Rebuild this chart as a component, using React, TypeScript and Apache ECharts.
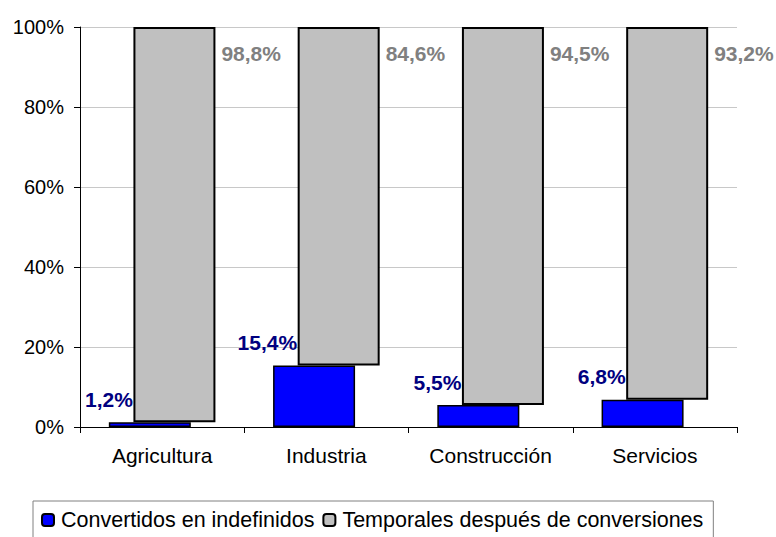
import React, { useEffect, useRef } from "react";
import * as echarts from "echarts";

const categories = ["Agricultura", "Industria", "Construcción", "Servicios"];
const convertidos = [1.2, 15.4, 5.5, 6.8];
const temporales = [98.8, 84.6, 94.5, 93.2];
const seriesNames = ["Convertidos en indefinidos", "Temporales después de conversiones"];

const fmt = (v: number) => v.toFixed(1).replace(".", ",") + "%";

export default function App() {
  const ref = useRef<HTMLDivElement>(null);
  useEffect(() => {
    document.body.style.margin = "0";
    const chart = echarts.init(ref.current!, null, { renderer: "svg" });
    const font = "Arial, 'Liberation Sans', sans-serif";
    chart.setOption({
      animation: false,
      backgroundColor: "#ffffff",
      textStyle: { fontFamily: font },
      grid: { left: 80, right: 39, top: 27, bottom: 110, containLabel: false },
      legend: {
        left: 33,
        top: 501,
        orient: "horizontal",
        data: seriesNames,
        itemWidth: 12,
        itemHeight: 12,
        itemGap: 8,
        borderColor: "#808080",
        borderWidth: 1,
        padding: [8, 10, 20, 8],
        textStyle: { fontFamily: font, fontSize: 21.5, color: "#000", padding: [0, 0, 0, 2] },
      },
      xAxis: {
        type: "category",
        data: categories,
        axisLine: { lineStyle: { color: "#000", width: 1 } },
        axisTick: { show: true, length: 6, lineStyle: { color: "#000" } },
        axisLabel: { fontFamily: font, fontSize: 21, color: "#000", margin: 18 },
      },
      yAxis: {
        type: "value",
        min: 0,
        max: 100,
        interval: 20,
        axisLine: { show: true, lineStyle: { color: "#000", width: 1 } },
        axisTick: { show: true, length: 6, lineStyle: { color: "#000" } },
        splitLine: { show: true, lineStyle: { color: "#c8c8c8", width: 1 } },
        axisLabel: {
          fontFamily: font,
          fontSize: 20,
          color: "#000",
          margin: 16,
          formatter: (v: number) => v + "%",
        },
      },
      series: [
        {
          name: seriesNames[0],
          type: "bar",
          stack: "a",
          data: convertidos,
          barWidth: 82,
          barGap: "-70%",
          itemStyle: { color: "#0000ff", borderColor: "#000", borderWidth: 1.5 },
          label: {
            show: true,
            position: [24, -23],
            align: "right",
            verticalAlign: "middle",
            fontFamily: font,
            fontSize: 21,
            fontWeight: "bold",
            color: "#000080",
            formatter: (p: any) => fmt(p.value),
          },
          z: 2,
        },
        {
          name: "base",
          type: "bar",
          stack: "b",
          data: convertidos,
          barWidth: 82,
          itemStyle: { color: "transparent", borderWidth: 0 },
          emphasis: { disabled: true },
          silent: true,
          label: { show: false },
          z: 1,
        },
        {
          name: seriesNames[1],
          type: "bar",
          stack: "b",
          data: temporales,
          barWidth: 82,
          itemStyle: { color: "#c0c0c0", borderColor: "#000", borderWidth: 2 },
          label: {
            show: true,
            position: [88, 26],
            align: "left",
            verticalAlign: "middle",
            fontFamily: font,
            fontSize: 21,
            fontWeight: "bold",
            color: "#808080",
            formatter: (p: any) => fmt(p.value),
          },
          z: 3,
        },
      ],
    });
    return () => chart.dispose();
  }, []);
  return <div ref={ref} style={{ width: 776, height: 537 }} />;
}
